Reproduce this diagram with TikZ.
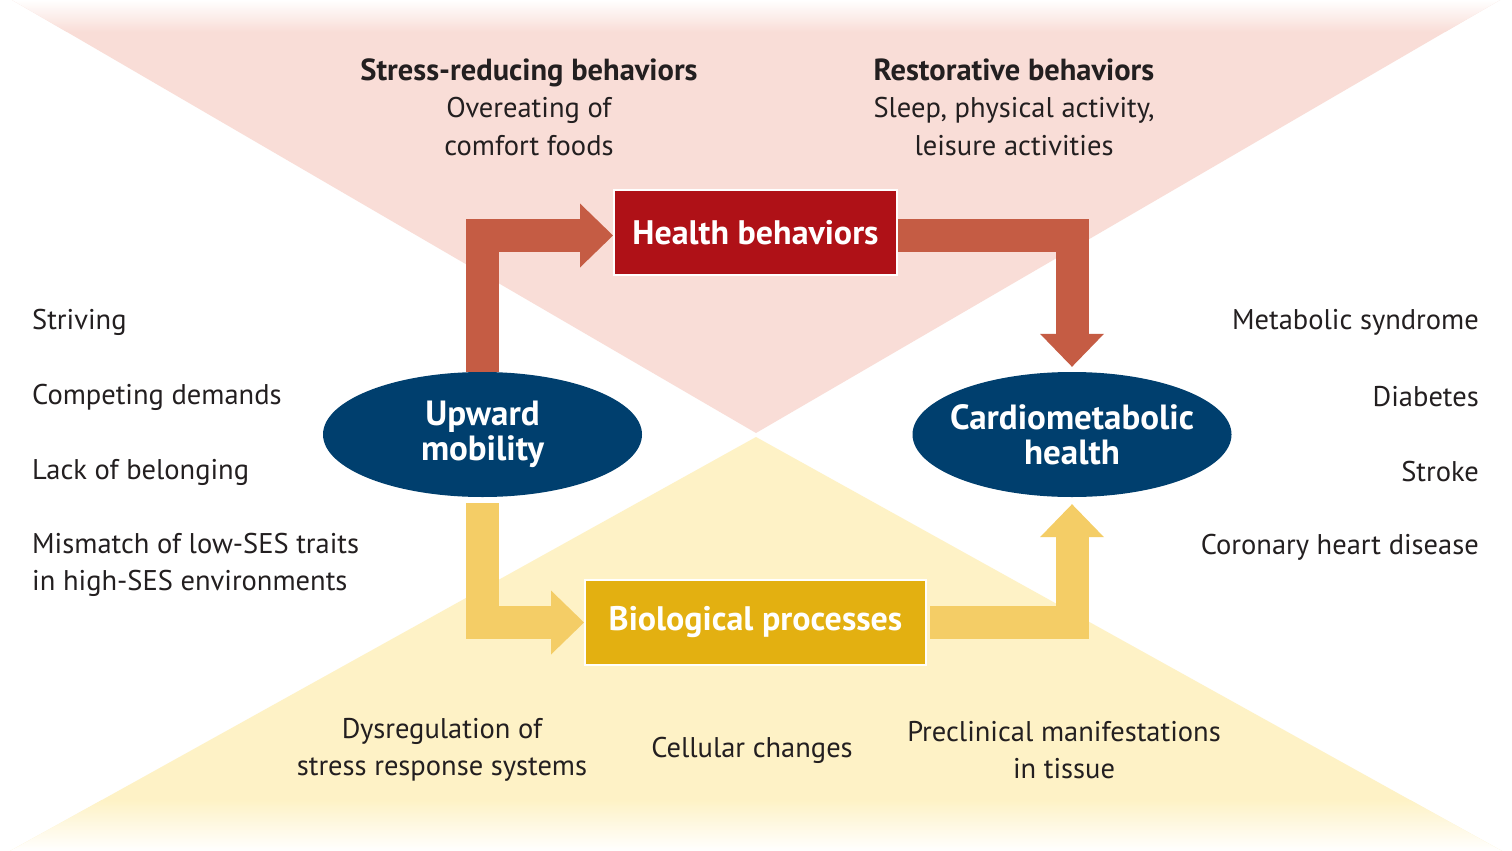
\documentclass[tikz,border=0pt]{standalone}
\usepackage{fontspec}
\setmainfont{PT Sans}
\usepackage{xcolor}
\usepackage{tikz}
\usetikzlibrary{arrows.meta,shapes.geometric}
\pgfdeclarelayer{bg}
\pgfdeclarelayer{flow}
\pgfsetlayers{bg,flow,main}
\definecolor{pinkbg}{HTML}{F9DDD7}
\definecolor{yellowbg}{HTML}{FEF2C6}
\definecolor{arrowred}{HTML}{C55C44}
\definecolor{arrowyel}{HTML}{F4CD66}
\definecolor{boxred}{HTML}{AF1117}
\definecolor{boxyel}{HTML}{E3B011}
\definecolor{navy}{HTML}{003F6E}
\definecolor{txt}{HTML}{231F20}
\tikzset{
    boxnode/.style={rectangle, draw=white, line width=2pt, minimum height=85pt, text=white, inner sep=0pt, font=\bfseries\fontsize{34}{34}\selectfont},
    ovalnode/.style={ellipse, fill=navy, minimum width=319pt, minimum height=125pt, inner xsep=-15pt, inner ysep=-10pt, text=white, align=center, font=\bfseries\fontsize{35}{35}\selectfont},
    redflow/.style={line width=33pt, draw=arrowred, -{Triangle[length=33pt,width=64pt,line width=0pt]}},
    yelflow/.style={line width=33pt, draw=arrowyel, -{Triangle[length=33pt,width=64pt,line width=0pt]}},
    mylabel/.style={inner sep=0pt, text=txt, font=\fontsize{28.5}{37.5}\selectfont}
}

\begin{document}
\begin{tikzpicture}[x=1pt,y=-1pt]
    \useasboundingbox (0,0) rectangle (1512,851);
    % background triangles
    \begin{pgfonlayer}{bg}
      \fill[white] (0,0) rectangle (1512,851);
      \begin{scope}
        \clip (12,0) -- (1500,0) -- (756,433) -- cycle;
        \fill[pinkbg] (0,0) rectangle (1512,440);
        \shade[top color=white, bottom color=pinkbg] (0,0) rectangle (1512,32);
      \end{scope}
      \begin{scope}
        \clip (10,851) -- (1502,851) -- (756,437) -- cycle;
        \fill[yellowbg] (0,430) rectangle (1512,851);
        \shade[top color=yellowbg, bottom color=white] (0,800) rectangle (1512,851);
      \end{scope}
    \end{pgfonlayer}
    % main nodes
    \draw (482.5,434.5) node[ovalnode] (upward) {Upward\\mobility};
    \draw (1072,434.5) node[ovalnode] (cardio) {Cardiometabolic\\health};
    \draw (755.5,232.5) node[boxnode, fill=boxred, minimum width=283pt] (behav) {Health behaviors};
    \draw (755.5,622.5) node[boxnode, fill=boxyel, minimum width=341pt] (bio) {Biological processes};
    % flows
    \begin{pgfonlayer}{flow}
      \draw[redflow] (upward.north) |- ([yshift=-3pt]behav.west);
      \draw[redflow, shorten >=5pt] ([yshift=-3pt]behav.east) -| (cardio.north);
      \draw[yelflow, shorten <=6pt] (upward.south) |- (bio.west);
      \draw[yelflow, shorten <=3pt, shorten >=7pt] (bio.east) -| (cardio.south);
    \end{pgfonlayer}
    % top labels
    \draw (529,107) node[mylabel, align=center] (stress) {\textbf{\fontsize{30.5}{37.5}\selectfont Stress-reducing behaviors}\\Overeating of\\comfort foods};
    \draw (1014,107) node[mylabel, align=center] (restore) {\textbf{\fontsize{30.5}{37.5}\selectfont Restorative behaviors}\\Sleep, physical activity,\\leisure activities};
    % left labels
    \draw (32,322) node[mylabel, anchor=west] (striving) {Striving};
    \draw (32,397) node[mylabel, anchor=west] (competing) {Competing demands};
    \draw (32,472) node[mylabel, anchor=west] (belonging) {Lack of belonging};
    \draw (32,565) node[mylabel, anchor=west, align=left] (mismatch) {Mismatch of low-SES traits\\in high-SES environments};
    % right labels
    \draw (1479,322) node[mylabel, anchor=east] (metabolic) {Metabolic syndrome};
    \draw (1479,397) node[mylabel, anchor=east] (diabetes) {Diabetes};
    \draw (1479,472) node[mylabel, anchor=east] (stroke) {Stroke};
    \draw (1479,547) node[mylabel, anchor=east] (coronary) {Coronary heart disease};
    % bottom labels
    \draw (442,750) node[mylabel, align=center] (dysreg) {Dysregulation of\\stress response systems};
    \draw (752,750) node[mylabel] (cellular) {Cellular changes};
    \draw (1064,750) node[mylabel, align=center] (preclin) {Preclinical manifestations\\in tissue};
\end{tikzpicture}
\end{document}
